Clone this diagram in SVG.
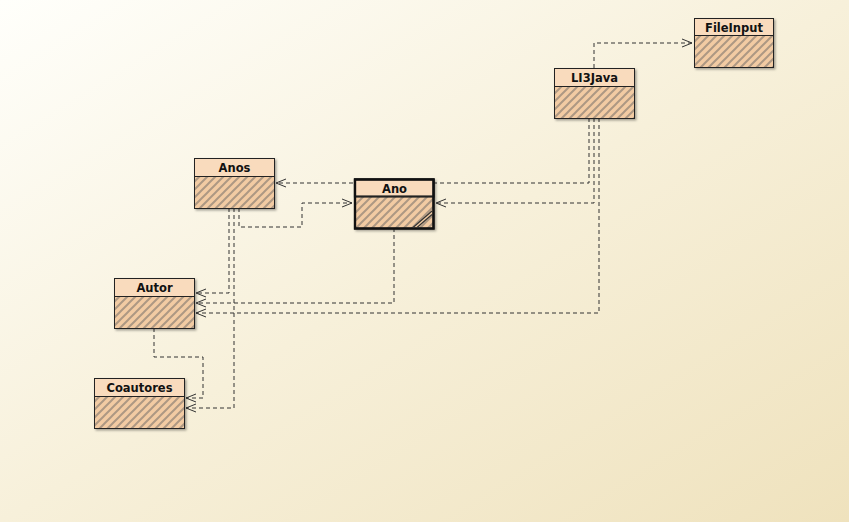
<svg xmlns="http://www.w3.org/2000/svg" width="849" height="522" viewBox="0 0 849 522">
<defs>
<linearGradient id="bg" x1="0" y1="0" x2="1" y2="1">
<stop offset="0" stop-color="#fffffb"/>
<stop offset="0.5" stop-color="#f7f0da"/>
<stop offset="1" stop-color="#efe2bd"/>
</linearGradient>
<pattern id="hatch" patternUnits="userSpaceOnUse" width="8" height="8">
<rect width="8" height="8" fill="#f2cba3"/>
<path d="M-1,1 L1,-1 M0,8 L8,0 M7,9 L9,7" stroke="#ad9883" stroke-width="2"/>
</pattern>
<marker id="arr" markerUnits="userSpaceOnUse" markerWidth="12" markerHeight="10" viewBox="0 0 12 10" refX="11" refY="5" orient="auto">
<path d="M1,1 L11,5 L1,9" fill="none" stroke="#333" stroke-width="1" stroke-dasharray="none"/>
</marker>
<filter id="sh" x="-10%" y="-10%" width="130%" height="130%">
<feDropShadow dx="1.5" dy="1.5" stdDeviation="1.2" flood-color="#000" flood-opacity="0.35"/>
</filter>
</defs>
<style>
.conn{fill:none;stroke:#333;stroke-width:1;stroke-dasharray:4,3;}
.box{fill:url(#hatch);stroke:#222;stroke-width:1;filter:url(#sh);}
.hdr{fill:#f9dbbd;stroke:#222;stroke-width:1;}
.thick{stroke-width:2.2;}
.lbl{font-family:"DejaVu Sans",sans-serif;font-weight:bold;font-size:11.5px;fill:#111;text-anchor:middle;}
</style>
<rect width="849" height="522" fill="url(#bg)"/>
<g id="connectors">
<path class="conn" d="M594,68 V43 H692" marker-end="url(#arr)"/>
<path class="conn" d="M589,118 V183 H276" marker-end="url(#arr)"/>
<path class="conn" d="M594,118 V203 H436" marker-end="url(#arr)"/>
<path class="conn" d="M599,118 V313 H196" marker-end="url(#arr)"/>
<path class="conn" d="M394,228 V303 H196" marker-end="url(#arr)"/>
<path class="conn" d="M239,208 V227 H302 V203 H352" marker-end="url(#arr)"/>
<path class="conn" d="M229,208 V293 H196" marker-end="url(#arr)"/>
<path class="conn" d="M234,208 V408 H186" marker-end="url(#arr)"/>
<path class="conn" d="M154,328 V357 H203 V398 H186" marker-end="url(#arr)"/>
</g>
<g id="FileInput">
<rect class="box" x="694.5" y="18.5" width="79" height="49"/>
<rect class="hdr" x="694.5" y="18.5" width="79" height="17"/>
<text class="lbl" x="734" y="31.5">FileInput</text>
</g>
<g id="LI3Java">
<rect class="box" x="554.5" y="68.5" width="80" height="50"/>
<rect class="hdr" x="554.5" y="68.5" width="80" height="18"/>
<text class="lbl" x="594.5" y="82">LI3Java</text>
</g>
<g id="Anos">
<rect class="box" x="194.5" y="158.5" width="80" height="50"/>
<rect class="hdr" x="194.5" y="158.5" width="80" height="18"/>
<text class="lbl" x="234.5" y="172">Anos</text>
</g>
<g id="Ano">
<rect class="box thick" x="355" y="179.5" width="78.5" height="49"/>
<rect class="hdr thick" x="355" y="179.5" width="78.5" height="17"/>
<rect x="355" y="179.5" width="78.5" height="49" fill="none" stroke="#111" stroke-width="2.2"/>
<line x1="413" y1="227.5" x2="432" y2="211" stroke="#333" stroke-width="1.2"/>
<line x1="417" y1="227.5" x2="432" y2="214.5" stroke="#333" stroke-width="1.2"/>
<text class="lbl" x="394.5" y="192.5">Ano</text>
</g>
<g id="Autor">
<rect class="box" x="114.5" y="278.5" width="80" height="50"/>
<rect class="hdr" x="114.5" y="278.5" width="80" height="18"/>
<text class="lbl" x="154.5" y="292">Autor</text>
</g>
<g id="Coautores">
<rect class="box" x="94.5" y="378.5" width="90" height="50"/>
<rect class="hdr" x="94.5" y="378.5" width="90" height="18"/>
<text class="lbl" x="139.5" y="392">Coautores</text>
</g>
</svg>
